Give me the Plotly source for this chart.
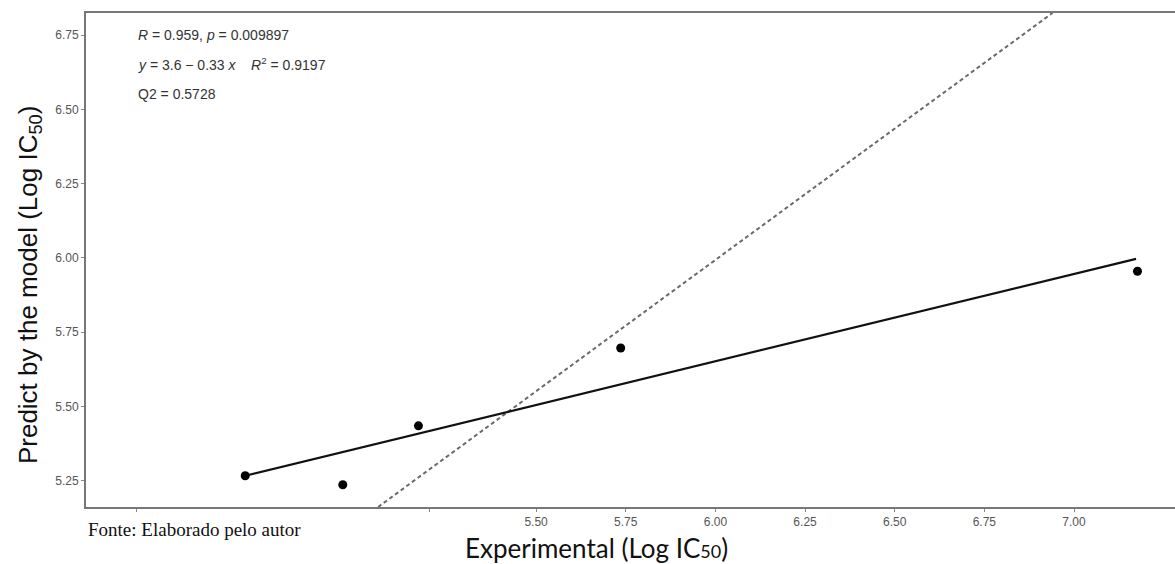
import plotly.graph_objects as go

# Data points (experimental vs predicted)
exp_x = [4.689, 4.961, 5.172, 5.736, 7.177]
pred_y = [5.267, 5.237, 5.435, 5.697, 5.955]

# Regression line endpoints
reg_x = [4.689, 7.173]
reg_y = [5.267, 5.997]

# Reference (dashed) line endpoints
ref_x = [5.0595, 6.940]
ref_y = [5.162, 6.824]

x_tickvals = [4.385, 5.204, 5.50, 5.75, 6.00, 6.25, 6.50, 6.75, 7.00]
x_ticktext = ["", "", "5.50", "5.75", "6.00", "6.25", "6.50", "6.75", "7.00"]
y_tickvals = [5.25, 5.50, 5.75, 6.00, 6.25, 6.50, 6.75]
y_ticktext = ["5.25", "5.50", "5.75", "6.00", "6.25", "6.50", "6.75"]

fig = go.Figure()
fig.add_trace(go.Scatter(x=ref_x, y=ref_y, mode="lines",
                         line=dict(color="#6a6a6a", width=2, dash="4px,3px"),
                         showlegend=False, hoverinfo="skip"))
fig.add_trace(go.Scatter(x=reg_x, y=reg_y, mode="lines",
                         line=dict(color="#111111", width=2.2),
                         showlegend=False, hoverinfo="skip"))
fig.add_trace(go.Scatter(x=exp_x, y=pred_y, mode="markers",
                         marker=dict(color="#000000", size=9),
                         showlegend=False))

axis_font = dict(family="Liberation Sans, Arial, sans-serif", size=12, color="#555555")
ann_font = dict(family="Liberation Sans, Arial, sans-serif", size=14, color="#333333")

fig.update_layout(
    width=1175, height=564,
    margin=dict(l=86, r=0, t=13, b=57),
    paper_bgcolor="white", plot_bgcolor="white",
    xaxis=dict(range=[4.245, 7.2816], tickvals=x_tickvals, ticktext=x_ticktext,
               showgrid=False, zeroline=False, showline=True, mirror=True,
               linecolor="#777777", linewidth=2, ticks="outside", ticklen=3,
               tickcolor="#888888", tickfont=axis_font),
    yaxis=dict(range=[5.162, 6.824], tickvals=y_tickvals, ticktext=y_ticktext,
               showgrid=False, zeroline=False, showline=True,
               linecolor="#777777", linewidth=2, ticks="outside", ticklen=3,
               tickcolor="#888888", tickfont=axis_font),
    annotations=[
        dict(xref="paper", yref="paper", x=0.0463, y=0.955, xanchor="left", yanchor="middle",
             text="<i>R</i> = 0.959, <i>p</i> = 0.009897", showarrow=False, font=ann_font),
        dict(xref="paper", yref="paper", x=0.0463, y=0.896, xanchor="left", yanchor="middle",
             text="<i>y</i> = 3.6 \u2212 0.33 <i>x</i>    <i>R</i><sup>2</sup> = 0.9197",
             showarrow=False, font=ann_font),
        dict(xref="paper", yref="paper", x=0.0463, y=0.836, xanchor="left", yanchor="middle",
             text="Q2 = 0.5728", showarrow=False, font=ann_font),
        dict(xref="paper", yref="paper", x=-0.052, y=0.45, xanchor="center", yanchor="middle",
             textangle=-90, showarrow=False,
             text="Predict by the model (Log IC<sub>50</sub>)",
             font=dict(family="Liberation Sans, Arial, sans-serif", size=26, color="#111111")),
        dict(xref="paper", yref="paper", x=0.0, y=-0.046, xanchor="left", yanchor="middle",
             text="Fonte: Elaborado pelo autor", showarrow=False,
             font=dict(family="Liberation Serif, Times New Roman, serif", size=19, color="#111111")),
        dict(xref="paper", yref="paper", x=0.469, y=-0.082, xanchor="center", yanchor="middle",
             borderpad=0,
             text="Experimental (Log IC<span style='font-size:18px'>50</span>)", showarrow=False,
             font=dict(family="Lato, Open Sans, sans-serif", size=26, color="#111111")),
    ],
)

fig.write_html("out.html")
